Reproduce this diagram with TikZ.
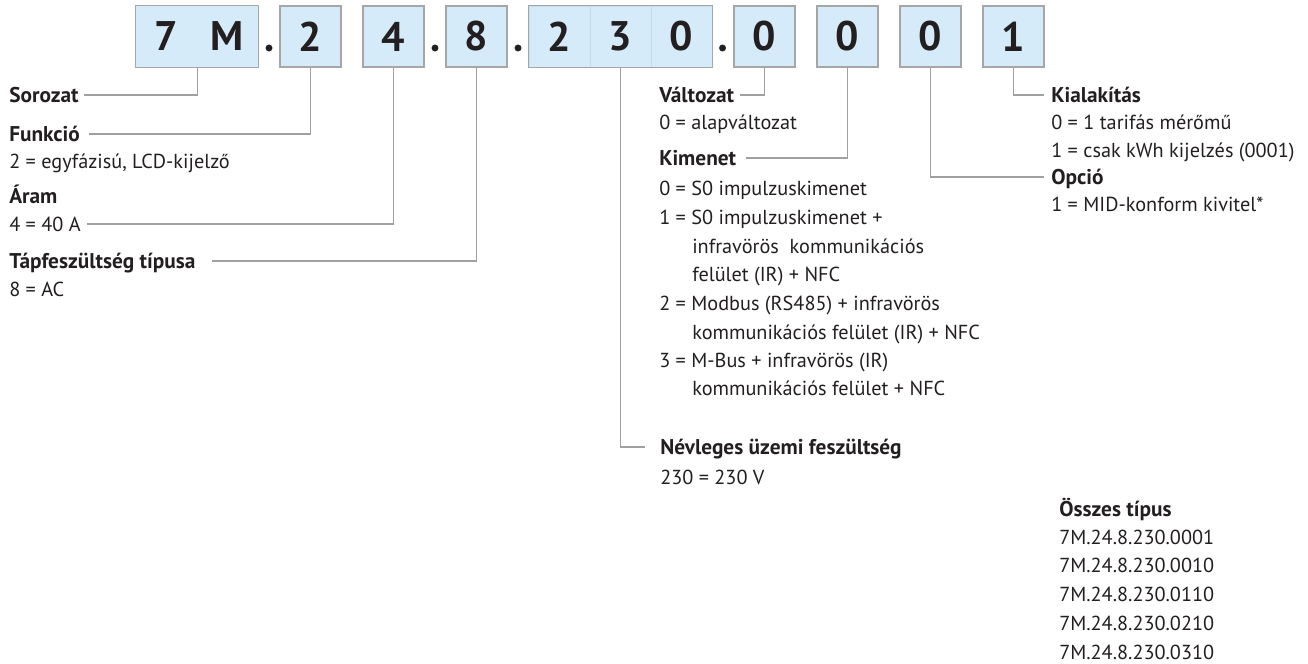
\documentclass[tikz,border=0pt]{standalone}
\usepackage{fontspec}
\setmainfont{PT Sans}
\usetikzlibrary{positioning}
\definecolor{boxblue}{RGB}{214,235,250}
\definecolor{boxgray}{RGB}{166,166,166}
\definecolor{divgray}{RGB}{198,220,236}
\definecolor{linegray}{RGB}{160,160,160}
\definecolor{inkdark}{RGB}{35,31,32}

\tikzset{
  cell/.style={fill=boxblue,draw=divgray,line width=0.4pt,minimum width=45.75pt,
    minimum height=45.75pt,inner sep=0pt,text=inkdark,
    font=\fontsize{31pt}{31pt}\selectfont\bfseries},
  boxline/.style={draw=boxgray,line width=1pt},
  conn/.style={draw=linegray,line width=0.9pt},
  lbl/.style={anchor=west,inner sep=0pt,text height=11pt,text depth=0pt,text=inkdark,
    font=\fontsize{16pt}{19pt}\selectfont\bfseries},
  val/.style={anchor=west,inner sep=0pt,text height=10.5pt,text depth=0pt,text=inkdark,
    font=\fontsize{15.2pt}{18pt}\selectfont}
}

\begin{document}
\begin{tikzpicture}[x=0.75pt,y=-0.75pt]
  \useasboundingbox (0,0) rectangle (1308,663);
  % code boxes
  \node[cell,draw=none] (d7) at (166.5,36.5) {7};
  \node[cell,draw=none] (dM) at (227.5,36.5) {M};
  \draw[boxline] (d7.north west) rectangle (dM.south east);
  \node[cell,boxline] (d2) at (310.5,36.5) {2};
  \node[cell,boxline] (d4) at (393.5,36.5) {4};
  \node[cell,boxline] (d8) at (476.5,36.5) {8};
  \node[cell] (d2b) at (559.5,36.5) {2};
  \node[cell] (d3) at (620.5,36.5) {3};
  \node[cell] (d0) at (681.5,36.5) {0};
  \draw[boxline] (d2b.north west) rectangle (d0.south east);
  \node[cell,boxline] (dv) at (764.5,36.5) {0};
  \node[cell,boxline] (dk) at (847.5,36.5) {0};
  \node[cell,boxline] (do) at (930.5,36.5) {0};
  \node[cell,boxline] (dt) at (1013.5,36.5) {1};
  % separating dots
  \fill[inkdark] (269,48) circle (2.6pt);
  \fill[inkdark] (435,48) circle (2.6pt);
  \fill[inkdark] (518,48) circle (2.6pt);
  \fill[inkdark] (722.5,48) circle (2.6pt);

  % left column
  \node[lbl] (sor) at (9,95) {Sorozat};
  \node[lbl] (fun) at (9,134) {Funkció};
  \node[val] (funv) at (9,161) {2 = egyfázisú, LCD-kijelző};
  \node[lbl] (aram) at (9,196) {Áram};
  \node[val] (aramv) at (9,224) {4 = 40 A};
  \node[lbl] (tap) at (9,261) {Tápfeszültség típusa};
  \node[val] (tapv) at (9,289) {8 = AC};

  % middle column
  \node[lbl] (valt) at (659,95) {Változat};
  \node[val] (valtv) at (659,123) {0 = alapváltozat};
  \node[lbl] (kim) at (659,158) {Kimenet};
  \node[val] (kim0) at (659,188) {0 = S0 impulzuskimenet};
  \node[val] (kim1) at (659,217) {1 = S0 impulzuskimenet +};
  \node[val] (kim1b) at (692,246) {infravörös\ \ kommunikációs};
  \node[val] (kim1c) at (692,274) {felület (IR) + NFC};
  \node[val] (kim2) at (659,303) {2 = Modbus (RS485) + infravörös};
  \node[val] (kim2b) at (692,332) {kommunikációs felület (IR) + NFC};
  \node[val] (kim3) at (659,360) {3 = M-Bus + infravörös (IR)};
  \node[val] (kim3b) at (692,388) {kommunikációs felület + NFC};
  \node[lbl] (nev) at (660,447) {Névleges üzemi feszültség};
  \node[val] (nevv) at (660,477) {230 = 230 V};

  % right column
  \node[lbl] (kial) at (1051,95) {Kialakítás};
  \node[val] (kial0) at (1051,123) {0 = 1 tarifás mérőmű};
  \node[val] (kial1) at (1051,150) {1 = csak kWh kijelzés (0001)};
  \node[lbl] (opc) at (1051,177) {Opció};
  \node[val] (opcv) at (1051,204) {1 = MID-konform kivitel*};

  % all types
  \node[lbl] (ossz) at (1059,509) {Összes típus};
  \node[val] (t1) at (1059,537) {7M.24.8.230.0001};
  \node[val] (t2) at (1059,565) {7M.24.8.230.0010};
  \node[val] (t3) at (1059,594) {7M.24.8.230.0110};
  \node[val] (t4) at (1059,623) {7M.24.8.230.0210};
  \node[val] (t5) at (1059,652) {7M.24.8.230.0310};

  % connectors
  \draw[conn] ([xshift=4pt]sor.east) -| (d7.south east);
  \draw[conn] ([xshift=7pt]fun.east) -| (d2.south);
  \draw[conn] ([xshift=4.5pt]aramv.east) -| (d4.south);
  \draw[conn] ([xshift=12pt]tap.east) -| (d8.south);
  \draw[conn] ([xshift=4pt]valt.east) -| (dv.south);
  \draw[conn] ([xshift=7.5pt]kim.east) -| (dk.south);
  \draw[conn] (d3.south) |- ([xshift=-11pt]nev.west);
  \draw[conn] (dt.south) |- ([xshift=-5pt]kial.west);
  \draw[conn] (do.south) |- ([xshift=-5pt]opc.west);
\end{tikzpicture}
\end{document}
